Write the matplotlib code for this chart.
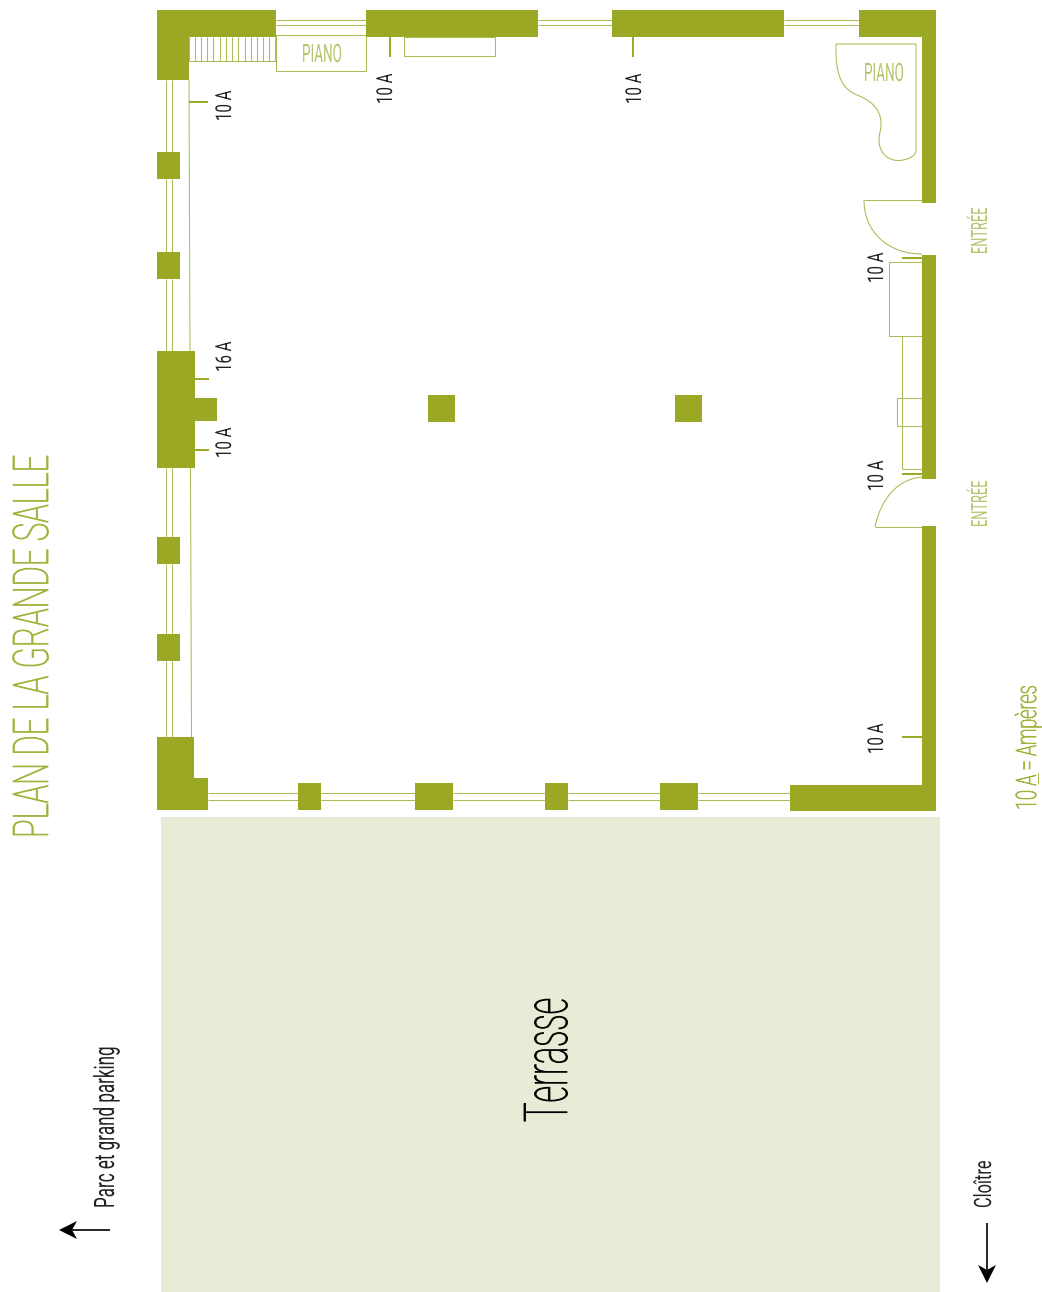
import matplotlib
matplotlib.use("Agg")
import matplotlib.pyplot as plt
from matplotlib.font_manager import FontProperties
from matplotlib.patches import Rectangle, PathPatch, Polygon
from matplotlib.path import Path
from matplotlib.patheffects import AbstractPathEffect
from matplotlib.textpath import TextPath
from matplotlib.transforms import Affine2D

GREEN = "#9aa823"
PALE = "#b6c36c"
LINE = "#adba55"
TEXT_GREEN = "#a3b03a"
DARK = "#222222"
TERRACE = "#e9ebd6"

W, H = 1042, 1292

# plan is measured in picture pixels: x, y, width, height
walls = [
    (157, 10, 119, 27), (157, 10, 32, 70),
    (366, 10, 172, 27), (612, 10, 172, 27), (859, 10, 77, 27),
    (922, 10, 14, 193), (922, 255, 14, 224), (922, 526, 14, 285),
    (790, 785, 146, 26),
    (157, 152, 23, 27), (157, 252, 23, 27),
    (157, 351, 38, 117), (195, 398, 22, 23),
    (157, 537, 23, 27), (157, 634, 23, 27),
    (157, 737, 37, 73), (194, 778, 14, 32),
    (298, 783, 23, 27), (415, 783, 38, 27),
    (545, 783, 23, 27), (660, 783, 38, 27),
    (428, 395, 27, 27), (675, 395, 27, 27),
]
terrace = (161, 817, 779, 475)

furniture = [
    (276, 34.5, 90, 36.5), (404, 37, 91, 19),
    (889, 262, 33, 74), (897, 398, 25, 28),
]

# thin window and furniture lines: x0, y0, x1, y1
thin_lines = [
    (276, 20, 366, 20), (276, 25, 366, 25),
    (538, 20, 612, 20), (538, 25, 612, 25),
    (784, 20, 859, 20), (784, 25, 859, 25),
    (166, 80, 166, 152), (172, 80, 172, 152),
    (166, 179, 166, 252), (172, 179, 172, 252),
    (166, 279, 166, 351), (172, 279, 172, 351),
    (166, 468, 166, 537), (172, 468, 172, 537),
    (166, 564, 166, 634), (172, 564, 172, 634),
    (166, 661, 166, 737), (172, 661, 172, 737),
    (189, 80, 190, 351), (190.5, 468, 191.5, 737),
    (208, 792.5, 298, 792.5), (208, 799.5, 298, 799.5),
    (321, 792.5, 415, 792.5), (321, 799.5, 415, 799.5),
    (453, 792.5, 545, 792.5), (453, 799.5, 545, 799.5),
    (568, 792.5, 660, 792.5), (568, 799.5, 660, 799.5),
    (698, 792.5, 790, 792.5), (698, 799.5, 790, 799.5),
    (189, 61, 276, 61),
    (902, 336, 902, 469), (902, 469, 922, 469),
    (864, 200, 922, 200), (875, 527, 922, 527),
    (1037.5, 773, 1037.5, 784),
]
stair_x = [189, 194.5, 200.5, 207, 213, 219.5, 225.5, 232, 238, 244.5, 250.5, 257, 263, 269, 275]

# outlets, drawn a bit heavier
outlets = [
    (189, 102, 208, 102), (390, 37, 390, 57), (633, 37, 633, 57),
    (195, 379, 209, 379), (195, 450, 209, 450),
    (902, 257.5, 922, 257.5), (902, 473.5, 922, 473.5), (902, 737, 922, 737),
]

# door swings and piano outline as bezier vertices
door_a = [(864, 200), (864, 232), (888, 254), (922, 254)]
door_b = [(875, 527), (881, 498), (898, 479), (922, 477)]
piano_verts = [
    (836, 44), (916, 44), (916, 150),
    (916, 157), (906, 160.5), (898, 160.5),
    (887, 160.5), (879, 152), (879, 140),
    (879, 133), (881.5, 130), (881, 122),
    (880, 108), (870, 100), (857, 95),
    (842, 89), (835, 75), (836, 44),
]
piano_codes = [Path.MOVETO, Path.LINETO, Path.LINETO] + [Path.CURVE4] * 15

# text in the thin cut: string, baseline x, start y, cap height, length
thin_text = [
    ("PLAN DE LA GRANDE SALLE", 48, 838, 35, 379, TEXT_GREEN),
    ("Terrasse", 567, 1122, 43, 122, "black"),
    ("10 A = Ampères", 1036, 810, 20, 122, TEXT_GREEN),
]
rotated_text = [
    ("Parc et grand parking", 114, 1208, 20, 159, DARK),
    ("Cloître", 991, 1208, 17, 46, DARK),
    ("ENTRÉE", 987, 254, 16, 45, PALE),
    ("ENTRÉE", 987, 527, 16, 45, PALE),
    ("10 A", 231, 121, 15.5, 29, DARK),
    ("10 A", 392, 104, 15.5, 29, DARK),
    ("10 A", 641, 104, 15.5, 29, DARK),
    ("16 A", 231, 372, 15.5, 29, DARK),
    ("10 A", 231, 458, 15.5, 29, DARK),
    ("10 A", 883, 283, 15.5, 29, DARK),
    ("10 A", 883, 491, 15.5, 29, DARK),
    ("10 A", 883, 754, 15.5, 29, DARK),
]
piano_text = [(302, 62), (864, 81)]

arrow_left = (59, 1230, 110)
arrow_down = (987, 1283, 1223)
head_shape = [(0, 0), (18, -9), (13, 0), (18, 9)]

FONT = FontProperties(family=["Roboto", "DejaVu Sans"])
FONT_THIN = FontProperties(family=["Roboto", "DejaVu Sans"], weight="light")
CAP_RATIO = 0.711


class Squeeze(AbstractPathEffect):
    # narrows the glyphs along the baseline, no condensed font is installed
    def __init__(self, sx, stroke=0):
        super().__init__()
        self.sx = sx
        self.stroke = stroke

    def draw_path(self, renderer, gc, tpath, affine, rgbFace=None):
        gc0 = renderer.new_gc()
        gc0.copy_properties(gc)
        gc0.set_linewidth(self.stroke)
        renderer.draw_path(gc0, tpath, Affine2D().scale(self.sx, 1) + affine, rgbFace)
        gc0.restore()


def put_text(x, y, s, cap, length, color, rot, font=FONT, stroke=0):
    size = cap / CAP_RATIO * 0.72
    natural = TextPath((0, 0), s, size=size, prop=font).get_extents().width / 0.72
    ax.text(x, y, s, color=color, rotation=rot, ha="left", va="baseline",
            rotation_mode="anchor", fontproperties=font.copy(),
            path_effects=[Squeeze(length / natural, stroke)]).set_fontsize(size)


fig = plt.figure(figsize=(W / 100, H / 100), dpi=100)
ax = fig.add_axes([0, 0, 1, 1])
ax.set_xlim(0, W)
ax.set_ylim(H, 0)
ax.axis("off")

ax.add_patch(Rectangle(terrace[:2], terrace[2], terrace[3], fc=TERRACE, ec="none"))
for x0, y0, x1, y1 in thin_lines:
    ax.plot([x0, x1], [y0, y1], color=LINE, lw=0.75, solid_capstyle="butt")
for x in stair_x:
    ax.plot([x, x], [37, 61], color=LINE, lw=0.75, solid_capstyle="butt")
for x, y, w, h in furniture:
    ax.add_patch(Rectangle((x, y), w, h, fc="none", ec=LINE, lw=0.75))
for x0, y0, x1, y1 in outlets:
    ax.plot([x0, x1], [y0, y1], color=GREEN, lw=1.4, solid_capstyle="butt")
for door in (door_a, door_b):
    path = Path(door, [Path.MOVETO] + [Path.CURVE4] * 3)
    ax.add_patch(PathPatch(path, fc="none", ec=LINE, lw=0.75))
ax.add_patch(PathPatch(Path(piano_verts, piano_codes), fc="none", ec=LINE, lw=0.75))
for x, y, w, h in walls:
    ax.add_patch(Rectangle((x, y), w, h, fc=GREEN, ec="none"))

for s, x, y, cap, length, color in thin_text:
    put_text(x, y, s, cap, length, color, 90, font=FONT_THIN, stroke=0.6)
for s, x, y, cap, length, color in rotated_text:
    put_text(x, y, s, cap, length, color, 90)
for x, y in piano_text:
    put_text(x, y, "PIANO", 18, 38, PALE, 0)

# the two direction arrows
tip_x, y, end_x = arrow_left
ax.plot([tip_x + 13, end_x], [y, y], color="black", lw=1.2, solid_capstyle="butt")
ax.add_patch(Polygon([(tip_x + dx, y + dy) for dx, dy in head_shape], fc="black", ec="none"))
x, tip_y, end_y = arrow_down
ax.plot([x, x], [tip_y - 13, end_y], color="black", lw=1.2, solid_capstyle="butt")
ax.add_patch(Polygon([(x + dy, tip_y - dx) for dx, dy in head_shape], fc="black", ec="none"))

fig.savefig("out.png", dpi=100)
